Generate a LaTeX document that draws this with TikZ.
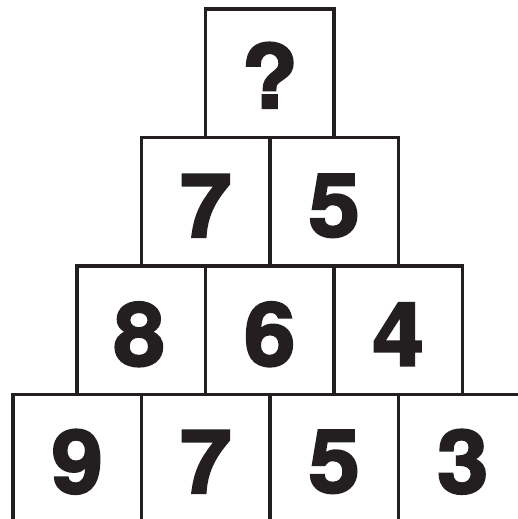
\documentclass[tikz,border=0pt]{standalone}
\usepackage{fontspec}
\setmainfont{TeX Gyre Heros}
\newfontfamily\heavyfont[FakeBold=2.5]{TeX Gyre Heros Bold}
\definecolor{ink}{HTML}{231F20}
\tikzset{
  cell/.style={draw=ink, line width=3.8pt, minimum width=128.5pt, minimum height=128.5pt, inner sep=0pt, outer sep=0pt},
  num/.style={text=ink, inner sep=0pt, font=\fontsize{88}{88}\heavyfont}
}
\newcommand{\dg}[1]{\scalebox{1.05}[1]{#1}}
\begin{document}
\begin{tikzpicture}[x=1pt,y=-1pt]
\useasboundingbox (0,0) rectangle (518,519);
\clip (0,0) rectangle (518,519);
\fill[white] (0,0) rectangle (518,519);
% row 1
\node[cell] (a1) at (269.75,73.25) {};
% row 2
\node[cell] (b1) at (205.75,201.75) {};
\node[cell] (b2) at (334.25,201.75) {};
% row 3
\node[cell] (c1) at (141.25,330.25) {};
\node[cell] (c2) at (269.75,330.25) {};
\node[cell] (c3) at (398.25,330.25) {};
% row 4
\node[cell] (d1) at (77.25,458.75) {};
\node[cell] (d2) at (205.75,458.75) {};
\node[cell] (d3) at (334.25,458.75) {};
\node[cell] (d4) at (462.75,458.75) {};
% labels
\node[num] (ta1) at ([yshift=-2pt]a1.center) {\dg{?}};
\node[num] (tb1) at ([yshift=-4pt]b1.center) {\dg{7}};
\node[num] (tb2) at ([yshift=-4pt]b2.center) {\dg{5}};
\node[num] (tc1) at ([xshift=-2pt,yshift=-4pt]c1.center) {\dg{8}};
\node[num] (tc2) at ([yshift=-4pt]c2.center) {\dg{6}};
\node[num] (tc3) at ([yshift=-4pt]c3.center) {\dg{4}};
\node[num] (td1) at ([yshift=-3pt]d1.center) {\dg{9}};
\node[num] (td2) at ([yshift=-3pt]d2.center) {\dg{7}};
\node[num] (td3) at ([yshift=-3pt]d3.center) {\dg{5}};
\node[num] (td4) at ([yshift=-3pt]d4.center) {\dg{3}};
\end{tikzpicture}
\end{document}
